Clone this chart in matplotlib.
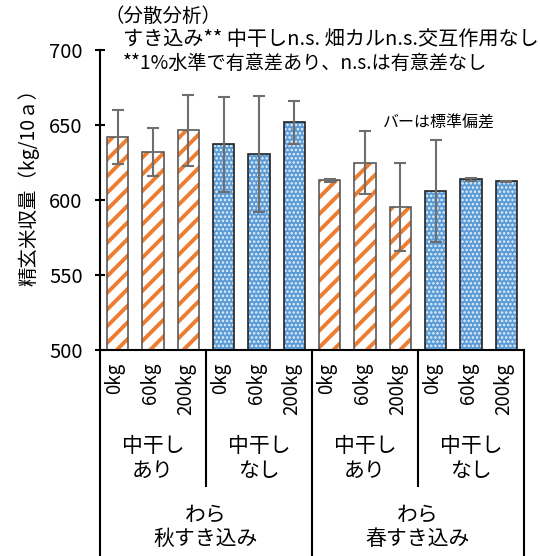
import matplotlib
matplotlib.use('Agg')
import matplotlib.pyplot as plt
import matplotlib.transforms as mtransforms
import numpy as np

plt.rcParams['font.family'] = ['Noto Sans CJK JP', 'DejaVu Sans']

# 精玄米収量 (kg/10a), mean and standard deviation per plot
doses = ['0kg', '60kg', '200kg'] * 4
drain_groups = ['中干し\nあり', '中干し\nなし', '中干し\nあり', '中干し\nなし']
straw_groups = ['わら\n秋すき込み', 'わら\n春すき込み']
yields = [641.8, 632.0, 646.5, 637.1, 630.7, 651.8, 613.3, 624.7, 595.3, 606.0, 613.8, 612.5]
sds = [18.0, 16.0, 23.7, 31.7, 38.7, 14.4, 1.0, 21.0, 29.5, 34.0, 1.0, 0.5]
drained = [True] * 3 + [False] * 3 + [True] * 3 + [False] * 3

W, H = 540, 556


def fx(px):
    return px / W


def fy(py):
    return 1 - py / H


fig = plt.figure(figsize=(W / 100, H / 100), dpi=100)
ax = fig.add_axes([fx(100), fy(350), fx(524) - fx(100), fy(50) - fy(350)])

x = np.arange(len(yields))
for i in range(len(yields)):
    if drained[i]:
        fill = ax.bar(x[i], yields[i], width=0.6, color='white', edgecolor='#ED7D31',
                      linewidth=0, hatch='//', zorder=2)
        hlw = 2.8
        outline = '#5a5a5a'
    else:
        fill = ax.bar(x[i], yields[i], width=0.6, color='#5B9BD5', edgecolor='#e8f1fa',
                      linewidth=0, hatch='....', zorder=2)
        hlw = 1.2
        outline = '#222222'
    for p in fill:
        if hasattr(p, 'set_hatch_linewidth'):
            p.set_hatch_linewidth(hlw)
    ax.bar(x[i], yields[i], width=0.6, fill=False, edgecolor=outline, linewidth=1.2, zorder=2.5)

ax.errorbar(x, yields, yerr=sds, fmt='none', ecolor='#6e6e6e', elinewidth=1.5,
            capsize=4.5, capthick=1.5, zorder=3)

ax.set_xlim(-0.5, 11.5)
ax.set_ylim(500, 700)
ax.set_yticks([500, 550, 600, 650, 700])
ax.set_xticks([])
for s in ['top', 'right']:
    ax.spines[s].set_visible(False)
for s in ['left', 'bottom']:
    ax.spines[s].set_linewidth(1.5)
    ax.spines[s].set_color('black')
ax.tick_params(axis='y', direction='inout', length=7, width=1.5, labelsize=14.5, pad=9)
ax.set_ylabel('精玄米収量（kg/10ａ）', fontsize=14, va='center')
ax.yaxis.set_label_coords(-0.169, 0.558)

# multi-level category axis below the plot
trans = mtransforms.blended_transform_factory(ax.transData, ax.transAxes)


def fa(py):
    return (350 - py) / 300


for i, d in enumerate(doses):
    ax.text(x[i] - 0.08, fa(362.7), d, rotation=90, ha='center', va='top',
            fontsize=13.5, transform=trans, clip_on=False)
for g, lab in enumerate(drain_groups):
    ax.text(3 * g + 1, fa(458.3), lab, ha='center', va='center', fontsize=15,
            linespacing=1.15, transform=trans, clip_on=False)
for g, lab in enumerate(straw_groups):
    ax.text(6 * g + 2.5, fa(526.7), lab, ha='center', va='center', fontsize=15,
            linespacing=1.15, transform=trans, clip_on=False)
for xs in [2.5, 8.5]:
    ax.plot([xs, xs], [0, fa(485.7)], color='black', lw=1.5, transform=trans, clip_on=False)
for xs in [-0.5, 5.5, 11.5]:
    ax.plot([xs, xs], [0, fa(560)], color='black', lw=1.5, transform=trans, clip_on=False)

# notes
fig.text(fx(105), fy(16.7), '（分散分析）', fontsize=14, va='center')
fig.text(fx(123), fy(39.3), 'すき込み** 中干しn.s. 畑カルn.s.交互作用なし', fontsize=14.5, va='center')
fig.text(fx(123), fy(63.3), '**1%水準で有意差あり、n.s.は有意差なし', fontsize=13.8, va='center')
fig.text(fx(383), fy(123.3), 'バーは標準偏差', fontsize=11.5, va='center')

fig.savefig('out.png', dpi=100)
